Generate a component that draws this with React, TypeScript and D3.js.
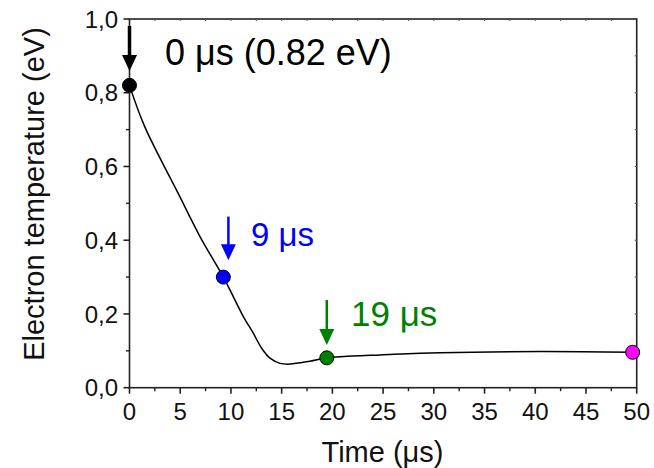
import React from 'react';
import * as d3 from 'd3';

// curve
const curveTime = [0, 1.5, 4.8, 6.95, 9.25, 10.23, 11.22, 12.2, 13.03, 13.85, 14.84, 15.82, 17.79, 19.45, 22, 24.7, 30.6, 40.5, 49.6];
const curveTemp = [0.82, 0.708, 0.527, 0.41, 0.3, 0.247, 0.193, 0.148, 0.107, 0.08, 0.066, 0.064, 0.072, 0.081, 0.086, 0.089, 0.095, 0.098, 0.096];

// highlighted samples
const pointTime = [0, 9.25, 19.45, 49.6];
const pointTemp = [0.82, 0.3, 0.081, 0.096];
const pointColor = ['#000000', '#0000ff', '#008000', '#ff00ff'];

const labelText = ['0 μs (0.82 eV)', '9 μs', '19 μs'];
const labelColor = ['#000000', '#0000ff', '#008000'];

const xTicks = [0, 5, 10, 15, 20, 25, 30, 35, 40, 45, 50];
const yTicks = [0, 0.2, 0.4, 0.6, 0.8, 1.0];

const W = 654;
const H = 468;
const FONT = 'Arial, "Liberation Sans", sans-serif';

// arrow layout: x in data, top/tip in data, label anchor in px
const arrows = [
  { t: 0, top: 0.981, tip: 0.859, sw: 3.5, lx: 165, ly: 65, fs: 36 },
  { t: 9.75, top: 0.464, tip: 0.346, sw: 2.5, lx: 251, ly: 246, fs: 33 },
  { t: 19.45, top: 0.238, tip: 0.116, sw: 2.5, lx: 351, ly: 326, fs: 35 },
];

export default function App() {
  const x = d3.scaleLinear().domain([0, 50]).range([129.5, 636.7]);
  const y = d3.scaleLinear().domain([0, 1]).range([387.7, 19]);
  const fmt = (v: number) => v.toFixed(1).replace('.', ',');

  const line = d3.line<number>()
    .x((_, i) => x(curveTime[i]))
    .y(d => y(d))
    .curve(d3.curveCatmullRom.alpha(0.5));

  const xMinor = d3.range(2.5, 50, 5);
  const yMinor = d3.range(0.1, 1, 0.2);
  const topTicks = d3.range(2.5, 50, 2.5);
  const rightTicks = d3.range(0.1, 1, 0.1);

  const [x0, x1] = x.range();
  const [y0, y1] = y.range();

  return (
    <svg width={W} height={H} style={{ position: 'absolute', left: 0, top: 0, background: '#fff' }}
      fontFamily={FONT}>
      {/* frame */}
      <rect x={x0} y={y1} width={x1 - x0} height={y0 - y1} fill="none" stroke="#222" strokeWidth={1.6} />

      {/* bottom axis */}
      {xTicks.map(t => (
        <g key={'x' + t}>
          <line x1={x(t)} x2={x(t)} y1={y0} y2={y0 + 6} stroke="#222" strokeWidth={1.6} />
          <text x={x(t)} y={419.5} fontSize={24} textAnchor="middle" fill="#111">{t}</text>
        </g>
      ))}
      {xMinor.map(t => (
        <line key={'xm' + t} x1={x(t)} x2={x(t)} y1={y0} y2={y0 + 3.5} stroke="#222" strokeWidth={1.4} />
      ))}
      {topTicks.map(t => (
        <line key={'xt' + t} x1={x(t)} x2={x(t)} y1={y1} y2={y1 + 2} stroke="#555" strokeWidth={1} />
      ))}

      {/* left axis */}
      {yTicks.map(t => (
        <g key={'y' + t}>
          <line x1={x0 - 6} x2={x0} y1={y(t)} y2={y(t)} stroke="#222" strokeWidth={1.6} />
          <text x={118} y={y(t)} dy="0.36em" fontSize={24} textAnchor="end" fill="#111">{fmt(t)}</text>
        </g>
      ))}
      {yMinor.map(t => (
        <line key={'ym' + t} x1={x0 - 3.5} x2={x0} y1={y(t)} y2={y(t)} stroke="#222" strokeWidth={1.4} />
      ))}
      {rightTicks.map(t => (
        <line key={'yr' + t} x1={x1 - 2} x2={x1} y1={y(t)} y2={y(t)} stroke="#555" strokeWidth={1} />
      ))}

      {/* titles */}
      <text x={382.5} y={461.5} fontSize={29} textAnchor="middle" fill="#111">Time (μs)</text>
      <text transform="translate(44,194) rotate(-90)" fontSize={29} textAnchor="middle" fill="#111">
        Electron temperature (eV)
      </text>

      {/* curve */}
      <path d={line(curveTemp) || ''} fill="none" stroke="#000" strokeWidth={1.5} />

      {/* arrows + labels */}
      {arrows.map((a, i) => {
        const ax = x(a.t);
        const top = y(a.top);
        const tip = y(a.tip);
        const head = 16;
        return (
          <g key={'a' + i}>
            <line x1={ax} x2={ax} y1={top} y2={tip - head + 1} stroke={labelColor[i]} strokeWidth={a.sw} />
            <path d={`M${ax - 7.5},${tip - head}L${ax + 7.5},${tip - head}L${ax},${tip}Z`} fill={labelColor[i]} />
            <text x={a.lx} y={a.ly} fontSize={a.fs} fill={labelColor[i]}>{labelText[i]}</text>
          </g>
        );
      })}

      {/* points */}
      {pointTime.map((t, i) => (
        <circle key={'p' + i} cx={x(t)} cy={y(pointTemp[i])} r={7} fill={pointColor[i]} stroke="#000" strokeWidth={1} />
      ))}
    </svg>
  );
}
